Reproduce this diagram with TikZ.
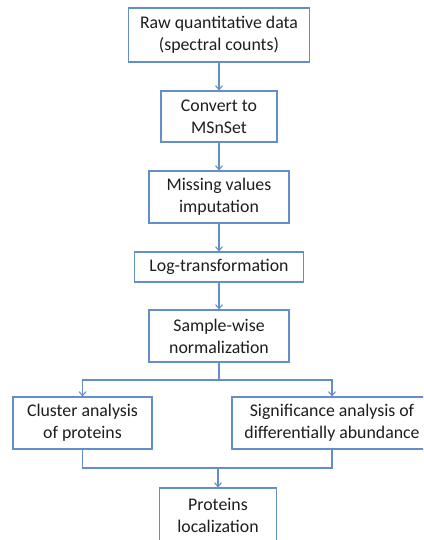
\documentclass[tikz,border=0pt]{standalone}
\usepackage{fontspec}
\setmainfont{Carlito}
\definecolor{bleuboite}{RGB}{98,143,204}
\definecolor{texte}{RGB}{30,30,30}
\usetikzlibrary{arrows.meta}

\begin{document}
\begin{tikzpicture}[x=1pt, y=-1pt, font=\fontsize{17.8}{22}\selectfont, text=texte,
		etape/.style={draw=bleuboite, line width=1.1pt, fill=white, align=center, inner sep=0pt},
		fleche/.style={-{Straight Barb[length=4pt,width=7pt]}, bleuboite, line width=1.1pt},
		trait/.style={bleuboite, line width=1.1pt}]
				\useasboundingbox (0,0) rectangle (423,540);
				\clip (0,0) rectangle (423,540);
				
				% Chaine principale
				\node[etape, minimum width=181pt, minimum height=54pt] (raw) at (219,35) {Raw quantitative data\\(spectral counts)};
				\node[etape, minimum width=116pt, minimum height=51pt] (convert) at (219,116.5) {Convert to\\MSnSet};
				\node[etape, minimum width=140pt, minimum height=52pt] (impute) at (219,197) {Missing values\\imputation};
				\node[etape, minimum width=169pt, minimum height=30pt] (logt) at (219,267) {Log-transformation};
				\node[etape, minimum width=140pt, minimum height=52pt] (norm) at (219,336) {Sample-wise\\normalization};
				
				% Deux branches
				\node[etape, minimum width=139pt, minimum height=52pt] (cluster) at (82.5,423) {Cluster analysis\\of proteins};
				\node[etape, minimum width=200pt, minimum height=52pt] (signif) at (332,423) {Significance analysis of\\differentially abundance};
				\node[etape, minimum width=117pt, minimum height=54pt] (local) at (218,515) {Proteins\\localization};
				
				\draw[fleche] (raw) -- (convert);
				\draw[fleche] (convert) -- (impute);
				\draw[fleche] (impute) -- (logt);
				\draw[fleche] (logt) -- (norm);
				
				% Separation puis regroupement
				\coordinate (split) at (219,380);
				\draw[trait] (norm) -- (split);
				\draw[fleche] (split) -| (cluster);
				\draw[fleche] (split) -| (signif);
				\coordinate (merge) at (218,468);
				\draw[trait] (cluster) |- (merge);
				\draw[trait] (signif) |- (merge);
				\draw[fleche] (merge) -- (local);
			\end{tikzpicture}
\end{document}
